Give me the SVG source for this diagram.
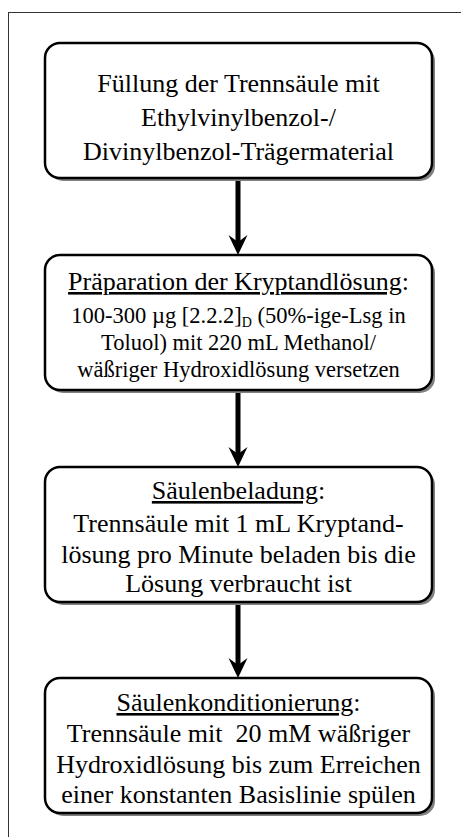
<svg xmlns="http://www.w3.org/2000/svg" width="461" height="837" viewBox="0 0 461 837">
  <defs>
    <path id="head" d="M0,0 L-9.5,-20 L0,-13 L9.5,-20 Z" fill="#000" stroke="none"/>
    <rect id="shd" width="387" height="135" rx="15" fill="#808080"/>
    <rect id="bx" width="387" height="135" rx="15" fill="#fff" stroke="#000" stroke-width="2.5"/>
  </defs>

  <rect width="461" height="837" fill="#fff"/>
  <!-- outer frame (only top and left edges fall inside the canvas) -->
  <rect x="8.5" y="12.5" width="470" height="840" fill="none" stroke="#333" stroke-width="1"/>

  <g id="connectors">
    <g stroke="#000" stroke-width="5">
      <line x1="238" y1="178" x2="238" y2="244"/>
      <line x1="238" y1="391" x2="238" y2="456"/>
      <line x1="238" y1="603" x2="238" y2="667"/>
    </g>
    <use href="#head" x="238" y="255"/>
    <use href="#head" x="238" y="467"/>
    <use href="#head" x="238" y="678"/>
  </g>

  <g id="node1">
    <use href="#shd" x="48" y="46"/>
    <use href="#bx" x="45" y="43"/>
    <text x="238.5" y="92" font-family="'Liberation Serif'" font-size="26" text-anchor="middle">Füllung der Trennsäule mit</text>
    <text x="238.5" y="126" font-family="'Liberation Serif'" font-size="26" text-anchor="middle">Ethylvinylbenzol-/</text>
    <text x="238.5" y="160" font-family="'Liberation Serif'" font-size="26" text-anchor="middle">Divinylbenzol-Trägermaterial</text>
  </g>

  <g id="node2">
    <use href="#shd" x="48" y="258"/>
    <use href="#bx" x="45" y="255"/>
    <text x="238.5" y="290" font-family="'Liberation Serif'" font-size="26" text-anchor="middle"><tspan text-decoration="underline">Präparation der Kryptandlösung</tspan>:</text>
    <text x="238.5" y="323" font-family="'Liberation Serif'" font-size="22.5" text-anchor="middle">100-300 µg [2.2.2]<tspan font-size="14" dy="4">D</tspan><tspan dy="-4"> (50%-ige-Lsg in</tspan></text>
    <text x="238.5" y="350" font-family="'Liberation Serif'" font-size="22.5" text-anchor="middle">Toluol) mit 220 mL Methanol/</text>
    <text x="238.5" y="377" font-family="'Liberation Serif'" font-size="22.5" text-anchor="middle">wäßriger Hydroxidlösung versetzen</text>
  </g>

  <g id="node3">
    <use href="#shd" x="48" y="470"/>
    <use href="#bx" x="45" y="467"/>
    <text x="238.5" y="499" font-family="'Liberation Serif'" font-size="26" text-anchor="middle"><tspan text-decoration="underline">Säulenbeladung</tspan>:</text>
    <text x="238.5" y="532" font-family="'Liberation Serif'" font-size="26" text-anchor="middle">Trennsäule mit 1 mL Kryptand-</text>
    <text x="238.5" y="563" font-family="'Liberation Serif'" font-size="26" text-anchor="middle">lösung pro Minute beladen bis die</text>
    <text x="238.5" y="592" font-family="'Liberation Serif'" font-size="26" text-anchor="middle">Lösung verbraucht ist</text>
  </g>

  <g id="node4">
    <use href="#shd" x="48" y="681"/>
    <use href="#bx" x="45" y="678"/>
    <text x="238.5" y="711" font-family="'Liberation Serif'" font-size="26" text-anchor="middle"><tspan text-decoration="underline">Säulenkonditionierung</tspan>:</text>
    <text x="238.5" y="742" font-family="'Liberation Serif'" font-size="26" text-anchor="middle" xml:space="preserve">Trennsäule mit  20 mM wäßriger</text>
    <text x="238.5" y="773" font-family="'Liberation Serif'" font-size="26" text-anchor="middle">Hydroxidlösung bis zum Erreichen</text>
    <text x="238.5" y="803" font-family="'Liberation Serif'" font-size="26" text-anchor="middle">einer konstanten Basislinie spülen</text>
  </g>
</svg>
